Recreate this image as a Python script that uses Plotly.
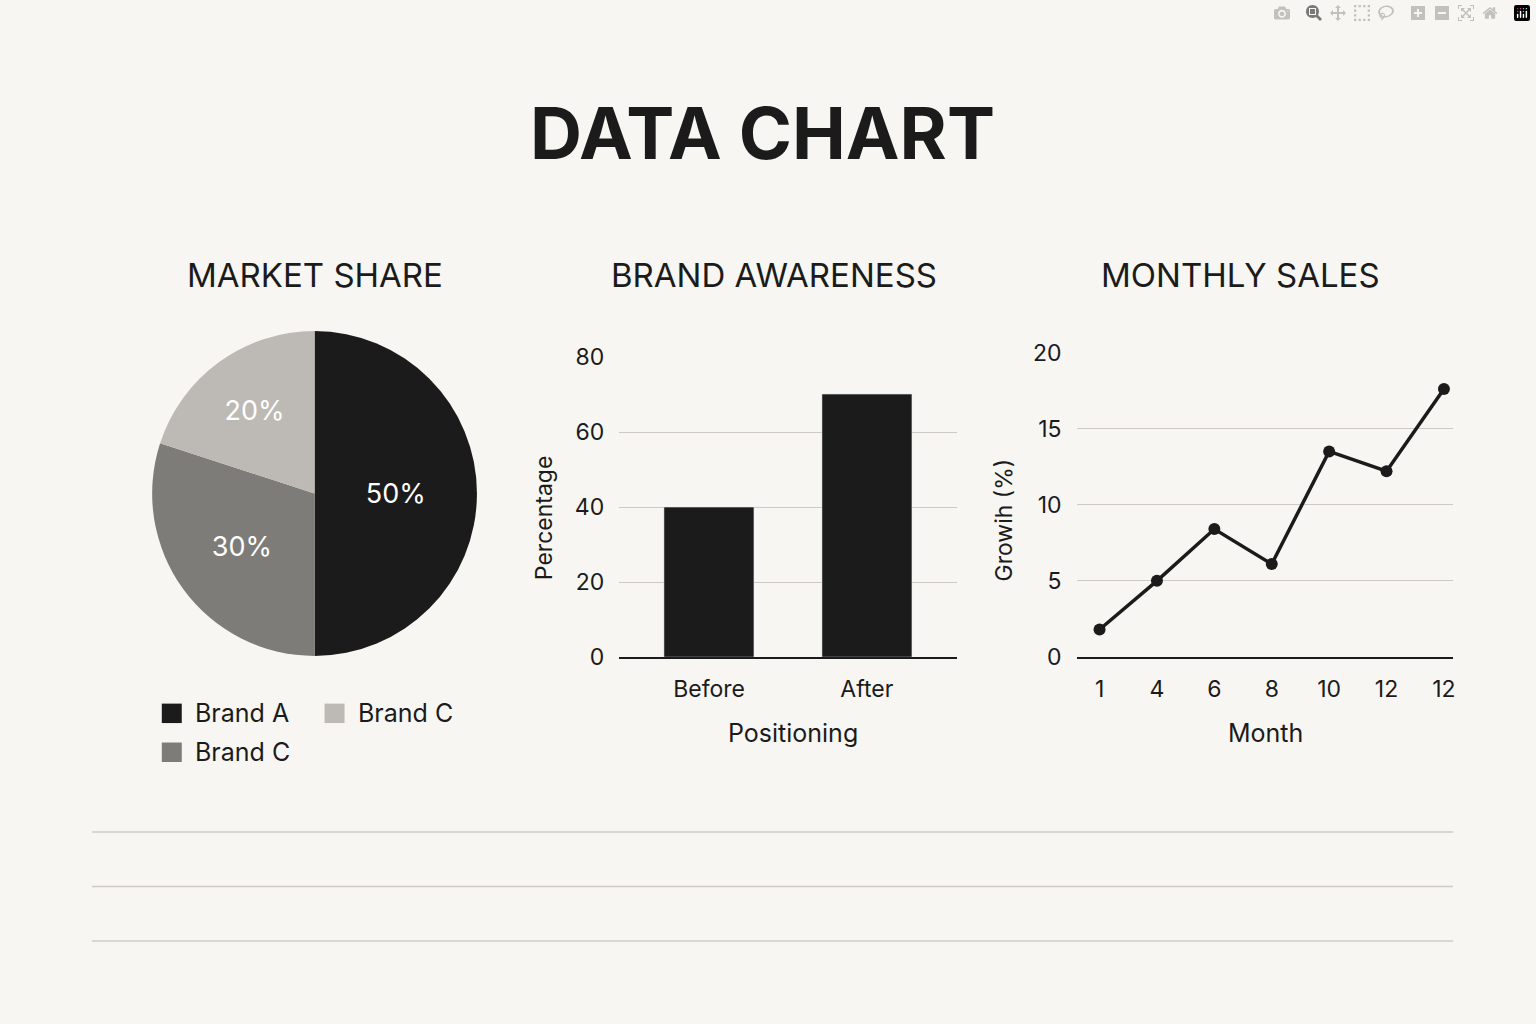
import plotly.graph_objects as go

W, H = 1536, 1024
def px(x): return x / W
def py(y): return 1 - y / H

pie_labels = ["Brand A", "Brand C (30%)", "Brand C (20%)"]
pie_values = [50, 30, 20]
pie_text = ["50%", "30%", "20%"]
pie_colors = ["#1b1b1b", "#7e7c79", "#bdb9b4"]

bar_cats = ["Before", "After"]
bar_vals = [40, 70]

months = ["1", "4", "6", "8", "10", "12", "12"]
growth = [1.8, 5.0, 8.4, 6.1, 13.5, 12.2, 17.6]

legend_items = [("Brand A", "#1b1b1b", 162, 719), ("Brand C", "#bdb9b4", 325, 719), ("Brand C", "#7e7c79", 162, 759)]

bg = "#f8f6f2"
font = "Inter"
fig = go.Figure()
fig.add_trace(go.Pie(labels=pie_labels, values=pie_values, text=pie_text, textinfo="text",
                     sort=False, direction="clockwise", rotation=0,
                     marker=dict(colors=pie_colors, line=dict(width=0)),
                     textfont=dict(color="white", size=27, family=font),
                     insidetextorientation="horizontal", showlegend=False,
                     domain=dict(x=[px(148), px(482)], y=[py(660), py(326)])))
fig.add_trace(go.Bar(x=[0, 1], y=bar_vals, width=0.57, marker_color="#1b1b1b",
                     xaxis="x", yaxis="y", showlegend=False))
fig.add_trace(go.Scatter(x=list(range(7)), y=growth, mode="lines+markers",
                         line=dict(color="#1b1b1b", width=3.5), marker=dict(size=12, color="#1b1b1b"),
                         xaxis="x2", yaxis="y2", showlegend=False))

def A(text, x, y, size, anchor="center", angle=0):
    return dict(text=text, x=px(x), y=py(y), xref="paper", yref="paper", showarrow=False,
                xanchor=anchor, yanchor="middle", textangle=angle,
                font=dict(size=size, family=font, color="#1b1b1b"))

ann = [A("<b>DATA CHART</b>", 763, 122, 72)]
for t, x in [("MARKET SHARE", 315), ("BRAND AWARENESS", 775), ("MONTHLY SALES", 1242)]:
    ann.append(A(t, x, 268, 33))
ann.append(A("Positioning", 794, 739, 25))
ann.append(A("Month", 1267, 739, 25))
ann.append(A("Percentage", 545, 518, 23, angle=-90))
ann.append(A("Growih (%)", 1005, 520, 23, angle=-90))

shapes = []
for name, col, x, y in legend_items:
    shapes.append(dict(type="rect", xref="paper", yref="paper", x0=px(x), x1=px(x + 20),
                       y0=py(y + 10), y1=py(y - 10), fillcolor=col, line=dict(width=0)))
    ann.append(A(name, x + 31, y, 25, anchor="left"))
for y in [841, 897, 953]:
    shapes.append(dict(type="line", xref="paper", yref="paper", x0=px(92), x1=px(1455),
                       y0=py(y), y1=py(y), line=dict(color="#cfccc7", width=1.5)))

tickf = dict(size=23, family=font, color="#1b1b1b")
fig.update_layout(
    width=W, height=H, margin=dict(l=0, r=0, t=0, b=0),
    paper_bgcolor=bg, plot_bgcolor=bg, annotations=ann, shapes=shapes, bargap=0,
    xaxis=dict(domain=[px(620), px(958)], range=[-0.57, 1.57], tickvals=[0, 1], ticktext=bar_cats,
               showgrid=False, zeroline=False, showline=True, linecolor="#1b1b1b", linewidth=2, ticks="",
               tickfont=tickf, anchor="y", ticklabelstandoff=10),
    yaxis=dict(domain=[py(661), py(353)], range=[0, 80], tickvals=[0, 20, 40, 60, 80],
               gridcolor="#cdcac5", gridwidth=1, zeroline=False, ticks="", tickfont=tickf,
               anchor="x", ticklabelstandoff=14),
    xaxis2=dict(domain=[px(1078), px(1455)], range=[-0.4, 6.16], tickvals=list(range(7)),
                ticktext=months, showgrid=False, zeroline=False, showline=True, linecolor="#1b1b1b",
                linewidth=2, ticks="", tickfont=tickf, anchor="y2", ticklabelstandoff=10),
    yaxis2=dict(domain=[py(661), py(348)], range=[0, 20], tickvals=[0, 5, 10, 15, 20],
                gridcolor="#cdcac5", gridwidth=1, zeroline=False, ticks="", tickfont=tickf,
                anchor="x2", ticklabelstandoff=14),
)
fig.write_html("out.html", post_script="document.body.style.margin='0';document.body.style.background='#f8f6f2';")
